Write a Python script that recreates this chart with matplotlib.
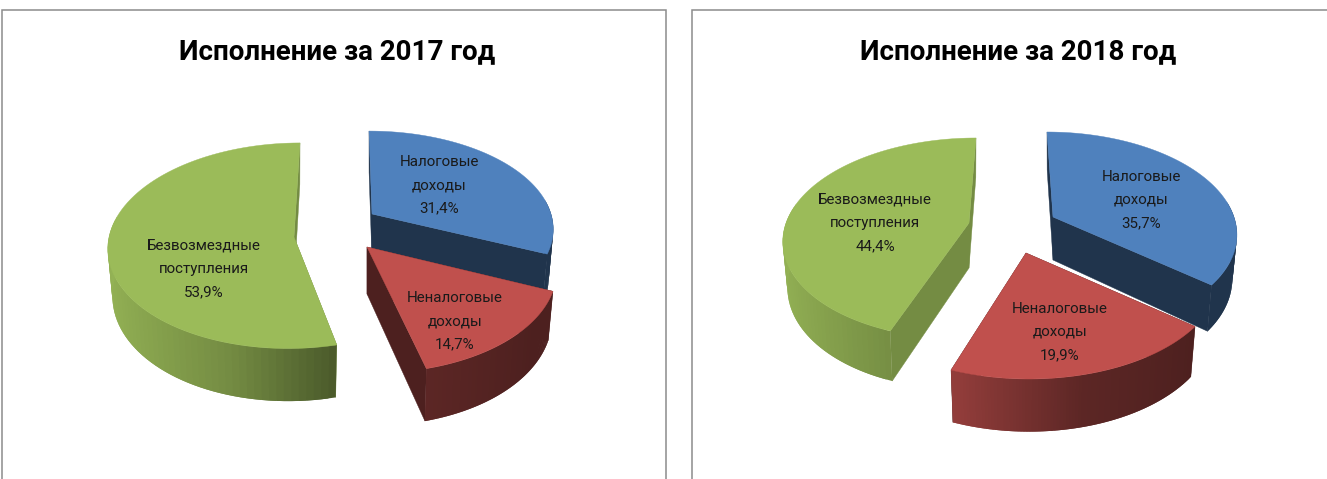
import numpy as np
import matplotlib
matplotlib.use("Agg")
import matplotlib.pyplot as plt
from matplotlib.colors import to_rgb

categories = ["Налоговые\nдоходы", "Неналоговые\nдоходы", "Безвозмездные\nпоступления"]
values_2017 = [31.4, 14.7, 53.9]
values_2018 = [35.7, 19.9, 44.4]
titles = ["Исполнение за 2017 год", "Исполнение за 2018 год"]

colors = ["#4f81bd", "#c0504d", "#9bbb59"]
FONT = ["Roboto", "DejaVu Sans"]


def project(ax0, ay0, skew, rx, ry, p, theta, depth=0.0):
    # theta is clockwise from the back of the pie, f > 0 is towards the viewer
    f = -np.cos(theta)
    s = 1 + p * f
    x = ax0 + rx * np.sin(theta) * s + skew * f
    y = ay0 + ry * f * s
    if depth:
        x = ax0 + (x - ax0) * 0.975
        y = y + depth * (1 + 0.12 * f)
    return x, y


def wall_factor(theta):
    t = (1 - np.sin(theta)) / 2
    return np.interp(t, [0.1, 0.38, 0.65, 1.0], [0.40, 0.48, 0.75, 0.95])


def draw_slice(ax, start, stop, color, apex, skew, rx, ry, p, depth, side):
    base = np.array(to_rgb(color))
    th = np.linspace(start, stop, 90)
    ax0, ay0 = apex
    tx, ty = project(ax0, ay0, skew, rx, ry, p, th)
    bx, by = project(ax0, ay0, skew, rx, ry, p, th, depth)

    # flat walls go first, the top covers whichever one faces away
    for i in (0, -1):
        xs = [ax0, tx[i], bx[i], ax0]
        ys = [ay0, ty[i], by[i], ay0 + depth]
        ax.fill(xs, ys, color=base * side, lw=0.3, zorder=2)

    # each quad overlaps the next one so no seams show between them
    for i in range(len(th) - 1):
        if -np.cos(th[i]) < -0.15 and -np.cos(th[i + 1]) < -0.15:
            continue
        j = min(i + 2, len(th) - 1)
        c = base * wall_factor((th[i] + th[i + 1]) / 2)
        ax.fill([tx[i], tx[j], bx[j], bx[i]],
                [ty[i], ty[j], by[j], by[i]],
                color=c, lw=0, zorder=2)

    ax.fill(np.r_[ax0, tx], np.r_[ay0, ty], color=color, lw=0.3, zorder=2)


def draw_pie(ax, values, layout):
    angles = np.radians(np.r_[0, np.cumsum(values)] * 3.6)
    for i in [0, 2, 1]:
        lay = layout[i]
        draw_slice(ax, angles[i], angles[i + 1], colors[i], lay["apex"], lay["skew"],
                   lay["rx"], lay["ry"], lay["p"], lay["depth"], lay["side"])
        label = categories[i] + "\n" + f"{values[i]:.1f}".replace(".", ",") + "%"
        ax.text(lay["label"][0], lay["label"][1], label, ha="center", va="center",
                fontsize=10.9, color="#1a1a1a", family=FONT, linespacing=1.86, zorder=3)


layout_2017 = [
    dict(apex=(372, 214), rx=179, ry=97, p=0.145, skew=3, depth=47, side=0.40, label=(439, 185)),
    dict(apex=(367, 247), rx=185, ry=105, p=0.20, skew=6, depth=47, side=0.40, label=(455, 321)),
    dict(apex=(294, 237), rx=185, ry=102.8, p=0.085, skew=-6, depth=47, side=0.75, label=(204, 269)),
]
layout_2018 = [
    dict(apex=(1053, 217), rx=181, ry=100, p=0.15, skew=6, depth=43, side=0.40, label=(1141, 200)),
    dict(apex=(1026, 253), rx=190, ry=105, p=0.20, skew=3, depth=47, side=0.40, label=(1060, 332)),
    dict(apex=(969, 223), rx=183, ry=100.5, p=0.154, skew=-7, depth=45, side=0.75, label=(875, 223)),
]

fig = plt.figure(figsize=(13.27, 4.79), dpi=100)
ax = fig.add_axes([0, 0, 1, 1])
ax.set_xlim(0, 1327)
ax.set_ylim(479, 0)
ax.axis("off")

# chart frames, open at the bottom because the screenshot is cut there
frame = dict(color="#8c8c8c", lw=1.1, zorder=1, solid_joinstyle="miter")
ax.plot([1.5, 1.5, 666, 666], [479, 9.5, 9.5, 479], **frame)
ax.plot([692, 692, 1327], [479, 9.5, 9.5], **frame)

draw_pie(ax, values_2017, layout_2017)
draw_pie(ax, values_2018, layout_2018)

ax.text(337, 52, titles[0], ha="center", va="center", fontsize=20, fontweight="bold",
        family=FONT, color="black")
ax.text(1018, 52, titles[1], ha="center", va="center", fontsize=20, fontweight="bold",
        family=FONT, color="black")

fig.savefig("out.png", dpi=100)
